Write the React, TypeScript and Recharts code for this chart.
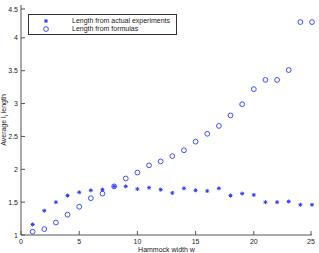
import React from 'react';
import { ScatterChart, Scatter, XAxis, YAxis, Label } from 'recharts';

// hammock widths and the two length series
const widths = [1, 2, 3, 4, 5, 6, 7, 8, 9, 10, 11, 12, 13, 14, 15, 16, 17, 18, 19, 20, 21, 22, 23, 24, 25];
const measured = [1.16, 1.37, 1.5, 1.6, 1.65, 1.68, 1.69, 1.74, 1.74, 1.7, 1.72, 1.69, 1.64, 1.71, 1.68, 1.67, 1.71, 1.6, 1.63, 1.61, 1.5, 1.5, 1.51, 1.46, 1.46];
const formula = [1.05, 1.09, 1.19, 1.31, 1.43, 1.56, 1.63, 1.74, 1.86, 1.95, 2.06, 2.12, 2.2, 2.29, 2.42, 2.54, 2.66, 2.82, 2.99, 3.22, 3.36, 3.36, 3.51, 4.24, 4.24];
const xTicks = [0, 5, 10, 15, 20, 25];
const yTicks = [1, 1.5, 2, 2.5, 3, 3.5, 4, 4.5];

const measuredPts = widths.map((w, i) => ({ w, len: measured[i] }));
const formulaPts = widths.map((w, i) => ({ w, len: formula[i] }));

const BLUE = '#2a3cff';
const AXIS = '#555';
const FONT = '"Liberation Sans", Arial, sans-serif';
const TICK = 4;

const Star = ({ cx, cy }: any) => {
  const r = 2;
  const d = r * 0.7;
  return (
    <g stroke={BLUE} strokeWidth={1}>
      <line x1={cx - r} y1={cy} x2={cx + r} y2={cy} />
      <line x1={cx} y1={cy - r} x2={cx} y2={cy + r} />
      <line x1={cx - d} y1={cy - d} x2={cx + d} y2={cy + d} />
      <line x1={cx - d} y1={cy + d} x2={cx + d} y2={cy - d} />
    </g>
  );
};

const Ring = ({ cx, cy }: any) => (
  <circle cx={cx} cy={cy} r={2.4} fill="none" stroke={BLUE} strokeWidth={0.9} />
);

const fmt = (v: number) => String(v);

// MATLAB style ticks pointing into the plot
const BottomTick = ({ x, y, payload }: any) => (
  <g>
    <line x1={x} y1={y} x2={x} y2={y - TICK} stroke={AXIS} />
    <text x={x} y={y + 9} textAnchor="middle" fontSize={7} fontFamily={FONT} fill="#222">
      {fmt(payload.value)}
    </text>
  </g>
);
const TopTick = ({ x, y }: any) => <line x1={x} y1={y} x2={x} y2={y + TICK} stroke={AXIS} />;
const LeftTick = ({ x, y, payload }: any) => (
  <g>
    <line x1={x} y1={y} x2={x + TICK} y2={y} stroke={AXIS} />
    <text x={x - 3} y={y + 2.5} textAnchor="end" fontSize={7} fontFamily={FONT} fill="#222">
      {fmt(payload.value)}
    </text>
  </g>
);
const RightTick = ({ x, y }: any) => <line x1={x} y1={y} x2={x - TICK} y2={y} stroke={AXIS} />;

const YTitle = ({ viewBox }: any) => {
  const cx = 6;
  const cy = viewBox.y + viewBox.height / 2;
  return (
    <text x={cx} y={cy} transform={`rotate(-90 ${cx} ${cy})`} textAnchor="middle" fontSize={7} fontFamily={FONT} fill="#222">
      Average l<tspan dy={1.5} fontSize={5}>i</tspan>
      <tspan dy={-1.5}> length</tspan>
    </text>
  );
};

const legendRows = [
  { name: 'Length from actual experiments', kind: 'star' },
  { name: 'Length from formulas', kind: 'ring' },
];

export default function App() {
  return (
    <div style={{ position: 'absolute', left: 0, top: 0, width: 319, height: 253, background: '#fff' }}>
      <ScatterChart width={319} height={253} margin={{ top: 5, right: 7, bottom: 0, left: 0 }}>
        <XAxis
          xAxisId="b"
          dataKey="w"
          type="number"
          domain={[0, 25]}
          ticks={xTicks}
          height={18}
          tickSize={0}
          tickMargin={0}
          tickLine={false}
          stroke={AXIS}
          tick={<BottomTick />}
        >
          <Label value="Hammock width w" position="insideBottom" offset={1} fontSize={7} fontFamily={FONT} fill="#222" />
        </XAxis>
        <XAxis
          xAxisId="t"
          orientation="top"
          type="number"
          domain={[0, 25]}
          ticks={xTicks}
          height={0}
          tickSize={0}
          tickMargin={0}
          tickLine={false}
          stroke={AXIS}
          tick={<TopTick />}
        />
        <YAxis
          yAxisId="l"
          dataKey="len"
          type="number"
          domain={[1, 4.5]}
          ticks={yTicks}
          width={21}
          tickSize={0}
          tickMargin={0}
          tickLine={false}
          stroke={AXIS}
          tick={<LeftTick />}
        >
          <Label content={<YTitle />} />
        </YAxis>
        <YAxis
          yAxisId="r"
          orientation="right"
          type="number"
          domain={[1, 4.5]}
          ticks={yTicks}
          width={0}
          tickSize={0}
          tickMargin={0}
          tickLine={false}
          stroke={AXIS}
          tick={<RightTick />}
        />
        <Scatter xAxisId="b" yAxisId="l" data={measuredPts} shape={<Star />} isAnimationActive={false} />
        <Scatter xAxisId="b" yAxisId="l" data={formulaPts} shape={<Ring />} isAnimationActive={false} />
      </ScatterChart>
      <div
        style={{
          position: 'absolute',
          left: 28,
          top: 14,
          width: 147,
          height: 19,
          border: '1px solid #333',
          background: '#fff',
          fontFamily: FONT,
          fontSize: 7,
          color: '#222',
        }}
      >
        {legendRows.map((r, i) => (
          <div key={r.name} style={{ position: 'absolute', left: 0, top: 2 + i * 8, height: 8, display: 'flex', alignItems: 'center' }}>
            <svg width={36} height={8}>
              {r.kind === 'star' ? <Star cx={17} cy={4} /> : <Ring cx={17} cy={4} />}
            </svg>
            <span style={{ marginLeft: 7, lineHeight: '8px' }}>{r.name}</span>
          </div>
        ))}
      </div>
    </div>
  );
}
